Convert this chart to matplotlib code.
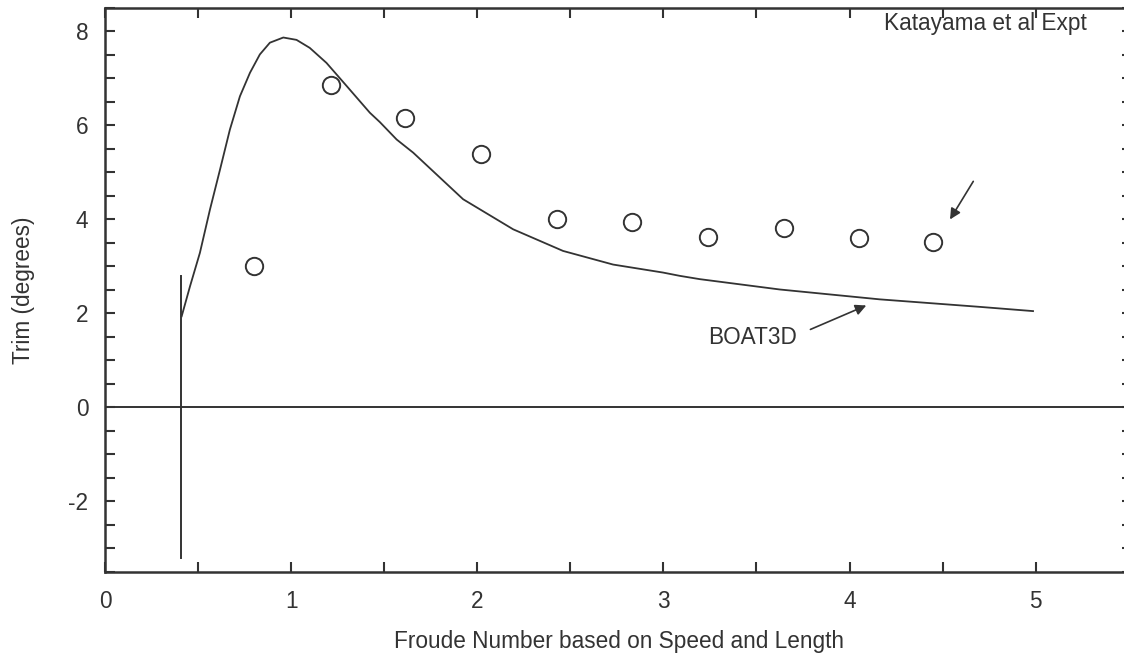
import matplotlib.pyplot as plt
from matplotlib.ticker import MultipleLocator

plt.rcParams['font.family'] = ['Liberation Sans', 'DejaVu Sans']
plt.rcParams['axes.unicode_minus'] = False

# BOAT3D computed trim curve
boat_fn = [0.412, 0.457, 0.510, 0.564, 0.618, 0.671, 0.725, 0.779, 0.832, 0.886,
           0.958, 1.029, 1.10, 1.19, 1.298, 1.423, 1.477, 1.567, 1.656, 1.924,
           2.193, 2.461, 2.730, 2.998, 3.088, 3.195, 3.625, 4.162, 4.70, 4.986]
boat_trim = [1.94, 2.58, 3.29, 4.21, 5.06, 5.91, 6.62, 7.12, 7.51, 7.76,
             7.87, 7.82, 7.65, 7.33, 6.84, 6.27, 6.07, 5.70, 5.42, 4.43,
             3.79, 3.33, 3.04, 2.87, 2.80, 2.73, 2.51, 2.30, 2.14, 2.05]

# Katayama et al experiment
expt_fn = [0.80, 1.215, 1.61, 2.02, 2.43, 2.83, 3.24, 3.65, 4.05, 4.45]
expt_trim = [3.0, 6.85, 6.15, 5.40, 4.0, 3.94, 3.62, 3.81, 3.60, 3.51]

ink = '#333333'
fs = 16.3

fig = plt.figure(figsize=(11.24, 6.58), dpi=100)
ax = fig.add_axes([0.0934, 0.1307, 1.0075 - 0.0934, 0.988 - 0.1307])

ax.plot(boat_fn, boat_trim, color=ink, lw=1.3)
ax.plot(expt_fn, expt_trim, ls='none', marker='o', ms=12.5, mfc='none',
        mec=ink, mew=1.4)
ax.axhline(0, color=ink, lw=1.4)
ax.plot([0.41, 0.41], [-3.2, 2.8], color=ink, lw=1.4)

ax.text(4.73, 8.17, 'Katayama et al Expt', ha='center', va='center',
        fontsize=fs, color=ink)
ax.annotate('', xy=(4.54, 4.0), xytext=(4.665, 4.81),
            arrowprops=dict(arrowstyle='-|>', color=ink, lw=1.2,
                            shrinkA=0, shrinkB=0, mutation_scale=16))
ax.text(3.48, 1.49, 'BOAT3D', ha='center', va='center', fontsize=fs, color=ink)
ax.annotate('', xy=(4.09, 2.17), xytext=(3.79, 1.66),
            arrowprops=dict(arrowstyle='-|>', color=ink, lw=1.2,
                            shrinkA=0, shrinkB=0, mutation_scale=16))

ax.set_xlim(0, 5.52)
ax.set_ylim(-3.5, 8.5)
ax.xaxis.set_major_locator(MultipleLocator(1))
ax.xaxis.set_minor_locator(MultipleLocator(0.5))
ax.yaxis.set_major_locator(MultipleLocator(2))
ax.yaxis.set_minor_locator(MultipleLocator(0.5))
ax.tick_params(which='both', direction='in', top=True, right=True,
               length=7, width=1.5, color=ink, labelcolor=ink, labelsize=fs)
ax.tick_params(axis='x', pad=13)
ax.tick_params(axis='y', pad=12)
for s in ax.spines.values():
    s.set_linewidth(1.8)
    s.set_color(ink)

ax.set_xlabel('Froude Number based on Speed and Length', fontsize=fs,
              color=ink, labelpad=12)
ax.set_ylabel('Trim (degrees)', fontsize=fs, color=ink, labelpad=24)

fig.savefig('out.png', dpi=100)
